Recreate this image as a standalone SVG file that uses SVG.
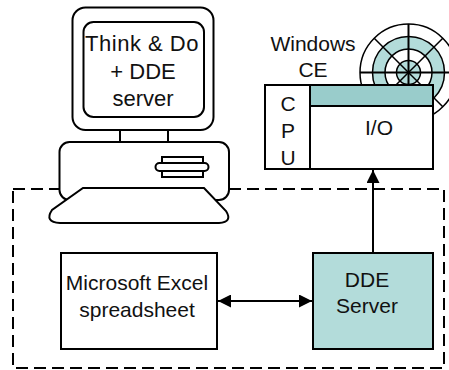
<svg xmlns="http://www.w3.org/2000/svg" width="449" height="370" viewBox="0 0 449 370">
  <style>
    .ln { fill: none; stroke: #000; stroke-width: 2; }
    .box { fill: #fff; stroke: #000; stroke-width: 2; }
    .teal { fill: #b3dcda; stroke: #000; stroke-width: 2; }
    .disc { stroke: #000; stroke-width: 1.5; }
    .t { font-family: "Liberation Sans", Arial, sans-serif; font-size: 21px; fill: #111; text-anchor: middle; }
    .big { font-size: 22px; }
  </style>
  <defs>
    <marker id="ah" viewBox="0 0 13 13" refX="13" refY="6.5" markerWidth="13" markerHeight="13" markerUnits="userSpaceOnUse" orient="auto-start-reverse">
      <path d="M0,0 L13,6.5 L0,13 Z" fill="#000"/>
    </marker>
  </defs>

  <rect fill="#fff" width="449" height="370"/>

  <!-- dashed boundary around the host PC software -->
  <g id="boundary">
    <rect x="13" y="189" width="431" height="179" fill="none" stroke="#000" stroke-width="2" stroke-dasharray="12 6"/>
  </g>

  <!-- desktop computer -->
  <g id="computer">
    <rect class="box" x="72.5" y="7.5" width="141" height="122.5" rx="13"/>
    <rect class="box" x="83.5" y="22" width="120.5" height="95" rx="10"/>
    <line class="ln" x1="120" y1="130" x2="120" y2="142"/>
    <line class="ln" x1="168" y1="130" x2="168" y2="142"/>
    <rect class="box" x="59.5" y="142" width="169.5" height="58" rx="10"/>
    <rect class="box" x="162" y="157" width="41" height="20"/>
    <rect class="box" x="155.5" y="163" width="53" height="8" rx="4"/>
    <path class="box" d="M83,188 L204,188 L226,211 Q233,222 219,223 L60,223 Q44,222 52,210 Z"/>
    <text class="t big" x="142" y="51" letter-spacing="0.5">Think &amp; Do</text>
    <text class="t big" x="143" y="79">+ DDE</text>
    <text class="t big" x="143" y="106">server</text>
  </g>

  <!-- Windows CE target -->
  <g id="windows-ce">
    <g class="disc">
      <circle cx="408.5" cy="72.5" r="48.5" fill="#fff"/>
      <circle cx="408.5" cy="72.5" r="36" fill="#b3dcda"/>
      <circle cx="408.5" cy="72.5" r="23.5" fill="#fff"/>
      <circle cx="408.5" cy="72.5" r="12" fill="#b3dcda"/>
      <line x1="360" y1="72.5" x2="457" y2="72.5" stroke-width="2"/>
      <line x1="408.5" y1="24" x2="408.5" y2="121" stroke-width="2"/>
      <line x1="374.2" y1="38.2" x2="442.8" y2="106.8"/>
      <line x1="374.2" y1="106.8" x2="442.8" y2="38.2"/>
    </g>
    <text class="t" x="313" y="51">Windows</text>
    <text class="t" x="313" y="77">CE</text>
    <rect class="box" x="265" y="85" width="168" height="84"/>
    <rect x="310" y="85" width="123" height="21" fill="#99cccb"/>
    <line class="ln" x1="310" y1="106" x2="433" y2="106"/>
    <line class="ln" x1="310" y1="85" x2="310" y2="169"/>
    <rect class="ln" x="265" y="85" width="168" height="84"/>
    <text class="t" x="288" y="111">C</text>
    <text class="t" x="288" y="138">P</text>
    <text class="t" x="288" y="165">U</text>
    <text class="t" x="379" y="135">I/O</text>
  </g>

  <!-- spreadsheet -->
  <g id="excel">
    <rect class="box" x="61" y="253" width="156" height="96"/>
    <text class="t" x="137" y="290">Microsoft Excel</text>
    <text class="t" x="137" y="317">spreadsheet</text>
  </g>

  <!-- DDE server -->
  <g id="dde-server">
    <rect class="teal" x="313" y="253" width="120" height="96"/>
    <text class="t" x="367" y="287">DDE</text>
    <text class="t" x="367" y="313">Server</text>
  </g>

  <!-- connectors -->
  <g id="connectors">
    <line class="ln" x1="218" y1="301" x2="312" y2="301" marker-start="url(#ah)" marker-end="url(#ah)"/>
    <line class="ln" x1="373" y1="252" x2="373" y2="170" marker-end="url(#ah)"/>
  </g>
</svg>
